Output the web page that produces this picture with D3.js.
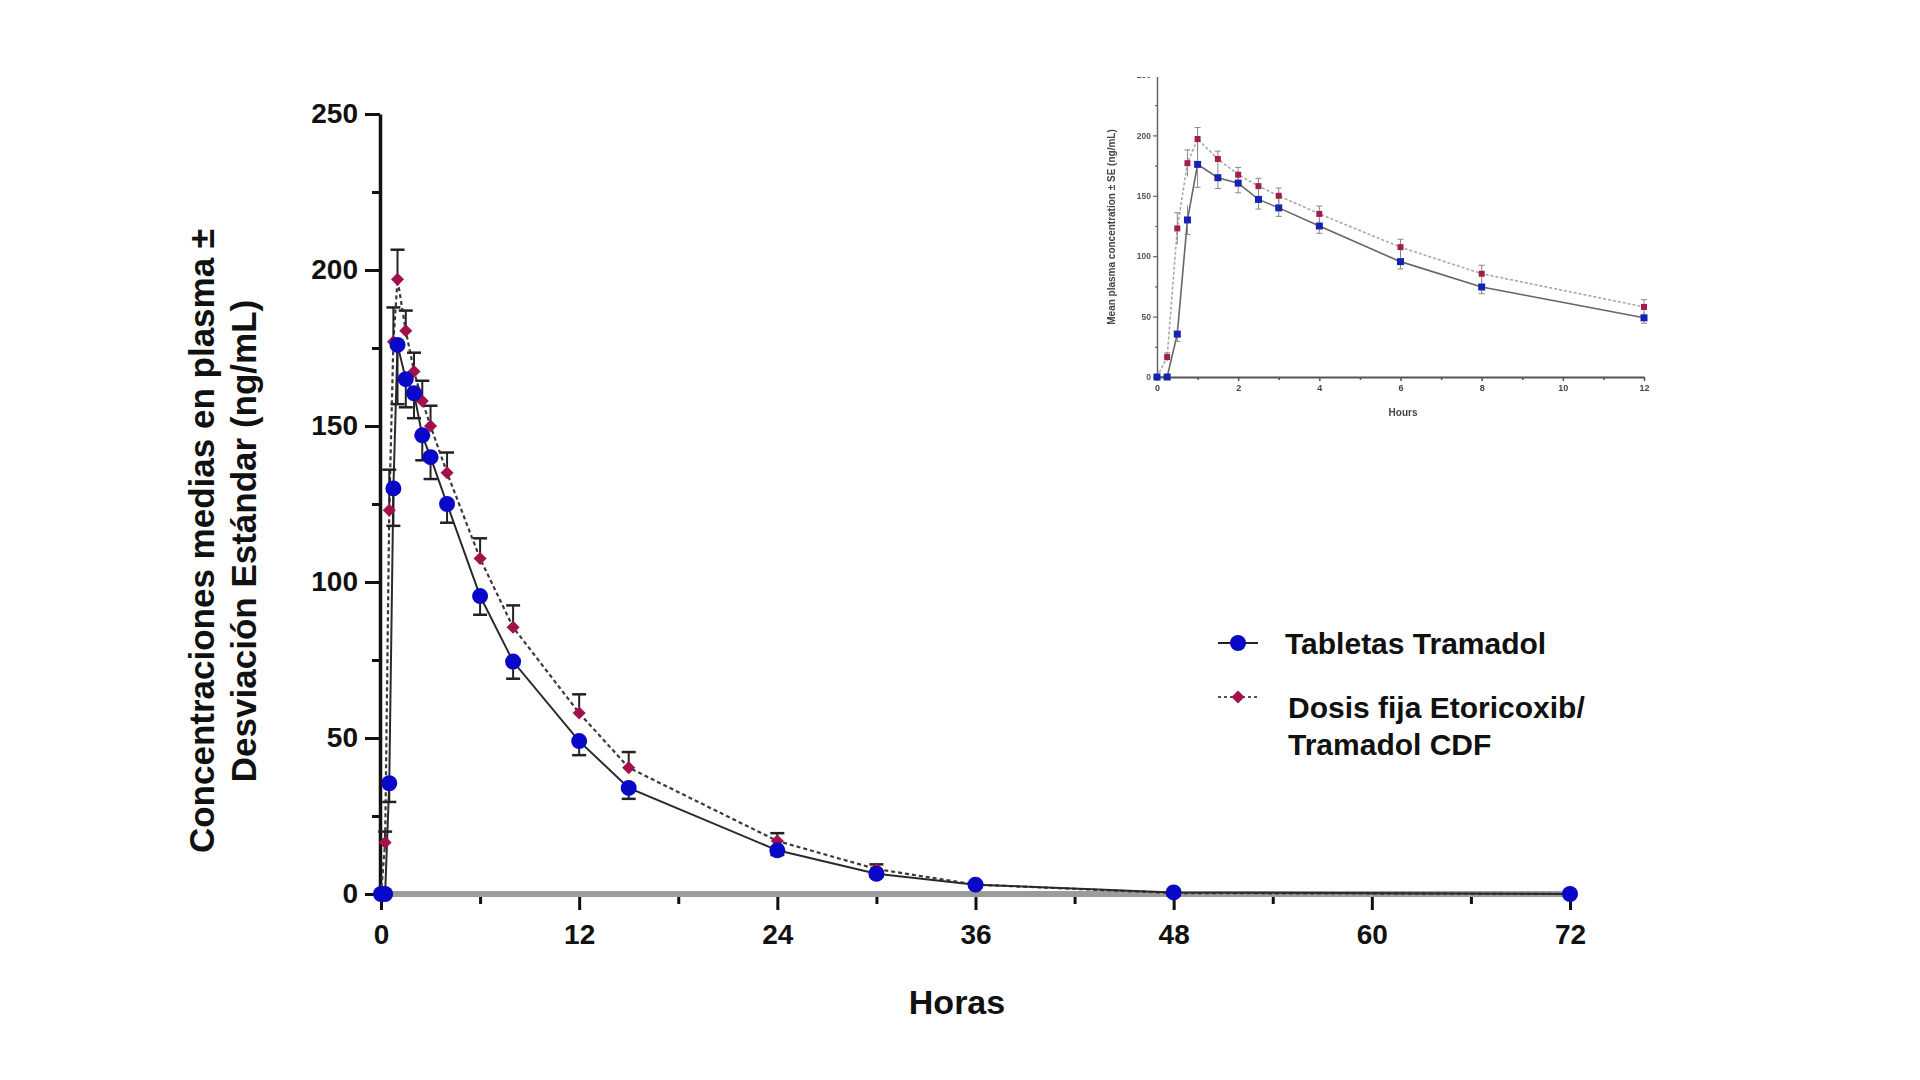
<!DOCTYPE html>
<html>
<head>
<meta charset="utf-8">
<script src="https://cdn.jsdelivr.net/npm/d3@7"></script>
<style>
  html, body { margin: 0; padding: 0; background: #fff; }
  svg { display: block; font-family: "Liberation Sans", Arial, Helvetica, sans-serif; }
</style>
</head>
<body>
<svg width="1920" height="1080"></svg>
<script>
// tiempos de muestreo (horas)
let horas = [0, 0.25, 0.5, 0.75, 1, 1.5, 2, 2.5, 3, 4, 6, 8, 12, 15, 24, 30, 36, 48, 72];
// Tabletas Tramadol: media y DE (ng/mL)
let tabletas = [0, 0, 35.5, 130, 176, 165, 160.5, 147, 140, 125, 95.5, 74.5, 49, 34, 14, 6.5, 3, 0.5, 0];
let tabletasDE = [0, 0, 6, 12, 19, 9, 8, 8, 7, 6, 6, 5.5, 4.5, 3.5, 1.5, 1, 0.5, 0.3, 0];
// Dosis fija Etoricoxib/Tramadol CDF: media y DE (ng/mL)
let cdf = [0, 16.5, 123, 177, 197, 180.5, 167.5, 158, 150, 135, 107.5, 85.5, 58, 40.5, 17, 8, 3, 0.3, 0];
let cdfDE = [0, 3.5, 13, 11, 9.5, 6.5, 6, 6.5, 6.5, 6.5, 6.5, 7, 6, 5, 2.5, 1.5, 0.5, 0.2, 0];

let xTicks = [0, 12, 24, 36, 48, 60, 72];
let xMinor = [6, 18, 30, 42, 54, 66];
let yTicks = [0, 50, 100, 150, 200, 250];
let yMinor = [25, 75, 125, 175, 225];

let insetXTicks = [0, 2, 4, 6, 8, 10, 12];
let insetXMinor = [1, 3, 5, 7, 9, 11];

let legend = [
  { lines: ['Tabletas Tramadol'], tipo: 'tab' },
  { lines: ['Dosis fija Etoricoxib/', 'Tramadol CDF'], tipo: 'cdf' }
];

let azul = '#0808c6', rojo = '#a3114c';

let svg = d3.select('svg');

let series = [
  { tipo: 'cdf', vals: cdf, de: cdfDE, dir: -1 },
  { tipo: 'tab', vals: tabletas, de: tabletasDE, dir: 1 }
];

function puntos(s, maxH) {
  return horas.map(function(h, i) { return { h: h, v: s.vals[i], e: s.de[i], dir: s.dir }; })
    .filter(function(d) { return d.h <= maxH; });
}

// ---------- gráfico principal ----------
let x = d3.scaleLinear().domain([0, 72]).range([381, 1570]);
let y = d3.scaleLinear().domain([0, 250]).range([894, 114]);

let main = svg.append('g');

// eje x gris grueso
main.append('line')
  .attr('x1', 376).attr('x2', 1576)
  .attr('y1', y(0)).attr('y2', y(0))
  .attr('stroke', '#9c9c9c').attr('stroke-width', 6);

let xAxis = main.append('g')
  .attr('transform', 'translate(0,' + (y(0) + 3) + ')')
  .call(d3.axisBottom(x).tickValues(xTicks).tickSize(13).tickPadding(14).tickFormat(d3.format('d')));
xAxis.select('.domain').remove();
xAxis.selectAll('line').attr('stroke', '#111').attr('stroke-width', 3);
xAxis.selectAll('text').attr('fill', '#111').style('font-size', '28px').style('font-weight', 'bold');

let xAxisMinor = main.append('g')
  .attr('transform', 'translate(0,' + (y(0) + 3) + ')')
  .call(d3.axisBottom(x).tickValues(xMinor).tickSize(7).tickFormat(''));
xAxisMinor.select('.domain').remove();
xAxisMinor.selectAll('line').attr('stroke', '#111').attr('stroke-width', 3);

let yAxis = main.append('g')
  .attr('transform', 'translate(' + (x(0) - 1) + ',0)')
  .call(d3.axisLeft(y).tickValues(yTicks).tickSize(15).tickSizeOuter(0).tickPadding(7));
yAxis.select('.domain').attr('stroke', '#111').attr('stroke-width', 3.5);
yAxis.selectAll('line').attr('stroke', '#111').attr('stroke-width', 3);
yAxis.selectAll('text').attr('fill', '#111').style('font-size', '28px').style('font-weight', 'bold');

let yAxisMinor = main.append('g')
  .attr('transform', 'translate(' + (x(0) - 1) + ',0)')
  .call(d3.axisLeft(y).tickValues(yMinor).tickSize(8).tickFormat(''));
yAxisMinor.select('.domain').remove();
yAxisMinor.selectAll('line').attr('stroke', '#111').attr('stroke-width', 3);

// líneas
let linea = d3.line().x(function(d) { return x(d.h); }).y(function(d) { return y(d.v); });

main.append('path')
  .datum(puntos(series[0], 72))
  .attr('d', linea).attr('fill', 'none')
  .attr('stroke', '#3a3a3a').attr('stroke-width', 2.2).attr('stroke-dasharray', '4 3');
main.append('path')
  .datum(puntos(series[1], 72))
  .attr('d', linea).attr('fill', 'none')
  .attr('stroke', '#2a2a2a').attr('stroke-width', 2);

// barras de error
series.forEach(function(s) {
  let g = main.append('g');
  let pts = puntos(s, 72).filter(function(d) { return d.e > 0.8; });
  g.selectAll('line.v').data(pts).join('line')
    .attr('x1', function(d) { return x(d.h); }).attr('x2', function(d) { return x(d.h); })
    .attr('y1', function(d) { return y(d.v); })
    .attr('y2', function(d) { return y(d.v - d.dir * d.e); })
    .attr('stroke', '#222').attr('stroke-width', 2);
  g.selectAll('line.c').data(pts).join('line')
    .attr('x1', function(d) { return x(d.h) - 7; }).attr('x2', function(d) { return x(d.h) + 7; })
    .attr('y1', function(d) { return y(d.v - d.dir * d.e); })
    .attr('y2', function(d) { return y(d.v - d.dir * d.e); })
    .attr('stroke', '#222').attr('stroke-width', 2.5);
});

// marcadores
let rombo = d3.symbol(d3.symbolSquare, 85);
main.append('g').selectAll('path').data(puntos(series[0], 72)).join('path')
  .attr('d', rombo)
  .attr('transform', function(d) { return 'translate(' + x(d.h) + ',' + y(d.v) + ') rotate(45)'; })
  .attr('fill', rojo);
main.append('g').selectAll('circle').data(puntos(series[1], 72)).join('circle')
  .attr('cx', function(d) { return x(d.h); })
  .attr('cy', function(d) { return y(d.v); })
  .attr('r', 8)
  .attr('fill', azul);

// títulos
main.append('text')
  .attr('x', 957).attr('y', 1014)
  .attr('text-anchor', 'middle')
  .style('font-size', '34px').style('font-weight', 'bold').attr('fill', '#111')
  .text('Horas');

let yTitulo = ['Concentraciones medias en plasma ±', 'Desviación Estándar (ng/mL)'];
main.selectAll('text.ytit').data(yTitulo).join('text')
  .attr('class', 'ytit')
  .attr('transform', function(d, i) { return 'translate(' + (214 + i * 42) + ',541) rotate(-90)'; })
  .attr('text-anchor', 'middle')
  .style('font-size', '35px').style('font-weight', 'bold').attr('fill', '#111')
  .text(function(d) { return d; });

// leyenda
let leg = main.append('g');
legend.forEach(function(item, i) {
  let cy = i === 0 ? 643 : 697;
  leg.append('line')
    .attr('x1', 1218).attr('x2', 1258).attr('y1', cy).attr('y2', cy)
    .attr('stroke', item.tipo === 'tab' ? '#222' : '#555')
    .attr('stroke-width', 2.2)
    .attr('stroke-dasharray', item.tipo === 'tab' ? null : '3 3');
  if (item.tipo === 'tab') {
    leg.append('circle').attr('cx', 1238).attr('cy', cy).attr('r', 8).attr('fill', azul);
  } else {
    leg.append('path').attr('d', rombo)
      .attr('transform', 'translate(1238,' + cy + ') rotate(45)').attr('fill', rojo);
  }
  item.lines.forEach(function(t, j) {
    leg.append('text')
      .attr('x', i === 0 ? 1285 : 1288)
      .attr('y', (i === 0 ? 654 : 718) + j * 37)
      .style('font-size', '30px').style('font-weight', 'bold').attr('fill', '#111')
      .text(t);
  });
});

// ---------- recuadro (0-12 h) ----------
let defs = svg.append('defs');
defs.append('filter').attr('id', 'borroso')
  .append('feGaussianBlur').attr('stdDeviation', 0.6);
defs.append('clipPath').attr('id', 'corte')
  .append('rect').attr('x', 1080).attr('y', 77).attr('width', 620).attr('height', 360);

let xi = d3.scaleLinear().domain([0, 12]).range([1157, 1644]);
let yi = d3.scaleLinear().domain([0, 250]).range([377, 75]);

let inset = svg.append('g').attr('filter', 'url(#borroso)').attr('clip-path', 'url(#corte)');

let xiAxis = inset.append('g')
  .attr('transform', 'translate(0,' + yi(0) + ')')
  .call(d3.axisBottom(xi).tickValues(insetXTicks).tickSize(4).tickSizeOuter(0).tickPadding(4));
xiAxis.select('.domain').attr('stroke', '#555').attr('stroke-width', 2);
xiAxis.selectAll('line').attr('stroke', '#555').attr('stroke-width', 1.5);
xiAxis.selectAll('text').attr('fill', '#444').style('font-size', '9px').style('font-weight', 'bold');
let xiMinor = inset.append('g')
  .attr('transform', 'translate(0,' + yi(0) + ')')
  .call(d3.axisBottom(xi).tickValues(insetXMinor).tickSize(3).tickFormat(''));
xiMinor.select('.domain').remove();
xiMinor.selectAll('line').attr('stroke', '#555').attr('stroke-width', 1.5);

let yiAxis = inset.append('g')
  .attr('transform', 'translate(' + xi(0) + ',0)')
  .call(d3.axisLeft(yi).tickValues(yTicks).tickSize(4).tickSizeOuter(0).tickPadding(2));
yiAxis.select('.domain').attr('stroke', '#666').attr('stroke-width', 1.5);
yiAxis.selectAll('line').attr('stroke', '#666').attr('stroke-width', 1.2);
yiAxis.selectAll('text').attr('fill', '#555').style('font-size', '8.5px').style('font-weight', 'bold');
let yiMinor = inset.append('g')
  .attr('transform', 'translate(' + xi(0) + ',0)')
  .call(d3.axisLeft(yi).tickValues(yMinor).tickSize(2).tickFormat(''));
yiMinor.select('.domain').remove();
yiMinor.selectAll('line').attr('stroke', '#666').attr('stroke-width', 1.2);

let lineaI = d3.line().x(function(d) { return xi(d.h); }).y(function(d) { return yi(d.v); });
inset.append('path').datum(puntos(series[0], 12))
  .attr('d', lineaI).attr('fill', 'none')
  .attr('stroke', '#a8a8a8').attr('stroke-width', 1.6).attr('stroke-dasharray', '3 2');
inset.append('path').datum(puntos(series[1], 12))
  .attr('d', lineaI).attr('fill', 'none')
  .attr('stroke', '#666').attr('stroke-width', 1.6);

series.forEach(function(s) {
  let pts = puntos(s, 12).filter(function(d) { return d.e > 0.8; });
  let g = inset.append('g');
  g.selectAll('line.v').data(pts).join('line')
    .attr('x1', function(d) { return xi(d.h); }).attr('x2', function(d) { return xi(d.h); })
    .attr('y1', function(d) { return yi(d.v + d.e); })
    .attr('y2', function(d) { return yi(d.v - d.e); })
    .attr('stroke', '#888').attr('stroke-width', 1);
  g.selectAll('line.c').data(pts).join('line')
    .attr('x1', function(d) { return xi(d.h) - 3; }).attr('x2', function(d) { return xi(d.h) + 3; })
    .attr('y1', function(d) { return yi(d.v - d.dir * d.e); })
    .attr('y2', function(d) { return yi(d.v - d.dir * d.e); })
    .attr('stroke', '#888').attr('stroke-width', 1);
});

inset.append('g').selectAll('rect').data(puntos(series[0], 12)).join('rect')
  .attr('x', function(d) { return xi(d.h) - 3; })
  .attr('y', function(d) { return yi(d.v) - 3; })
  .attr('width', 6).attr('height', 6)
  .attr('fill', '#a21d4e');
inset.append('g').selectAll('rect').data(puntos(series[1], 12)).join('rect')
  .attr('x', function(d) { return xi(d.h) - 3.5; })
  .attr('y', function(d) { return yi(d.v) - 3.5; })
  .attr('width', 7).attr('height', 7)
  .attr('fill', '#1524b0');

inset.append('text')
  .attr('x', 1403).attr('y', 416)
  .attr('text-anchor', 'middle')
  .style('font-size', '10px').style('font-weight', 'bold').attr('fill', '#444')
  .text('Hours');
inset.append('text')
  .attr('transform', 'translate(1115,227) rotate(-90)')
  .attr('text-anchor', 'middle')
  .style('font-size', '10px').style('font-weight', 'bold').attr('fill', '#444')
  .text('Mean plasma concentration ± SE (ng/mL)');
</script>
</body>
</html>
